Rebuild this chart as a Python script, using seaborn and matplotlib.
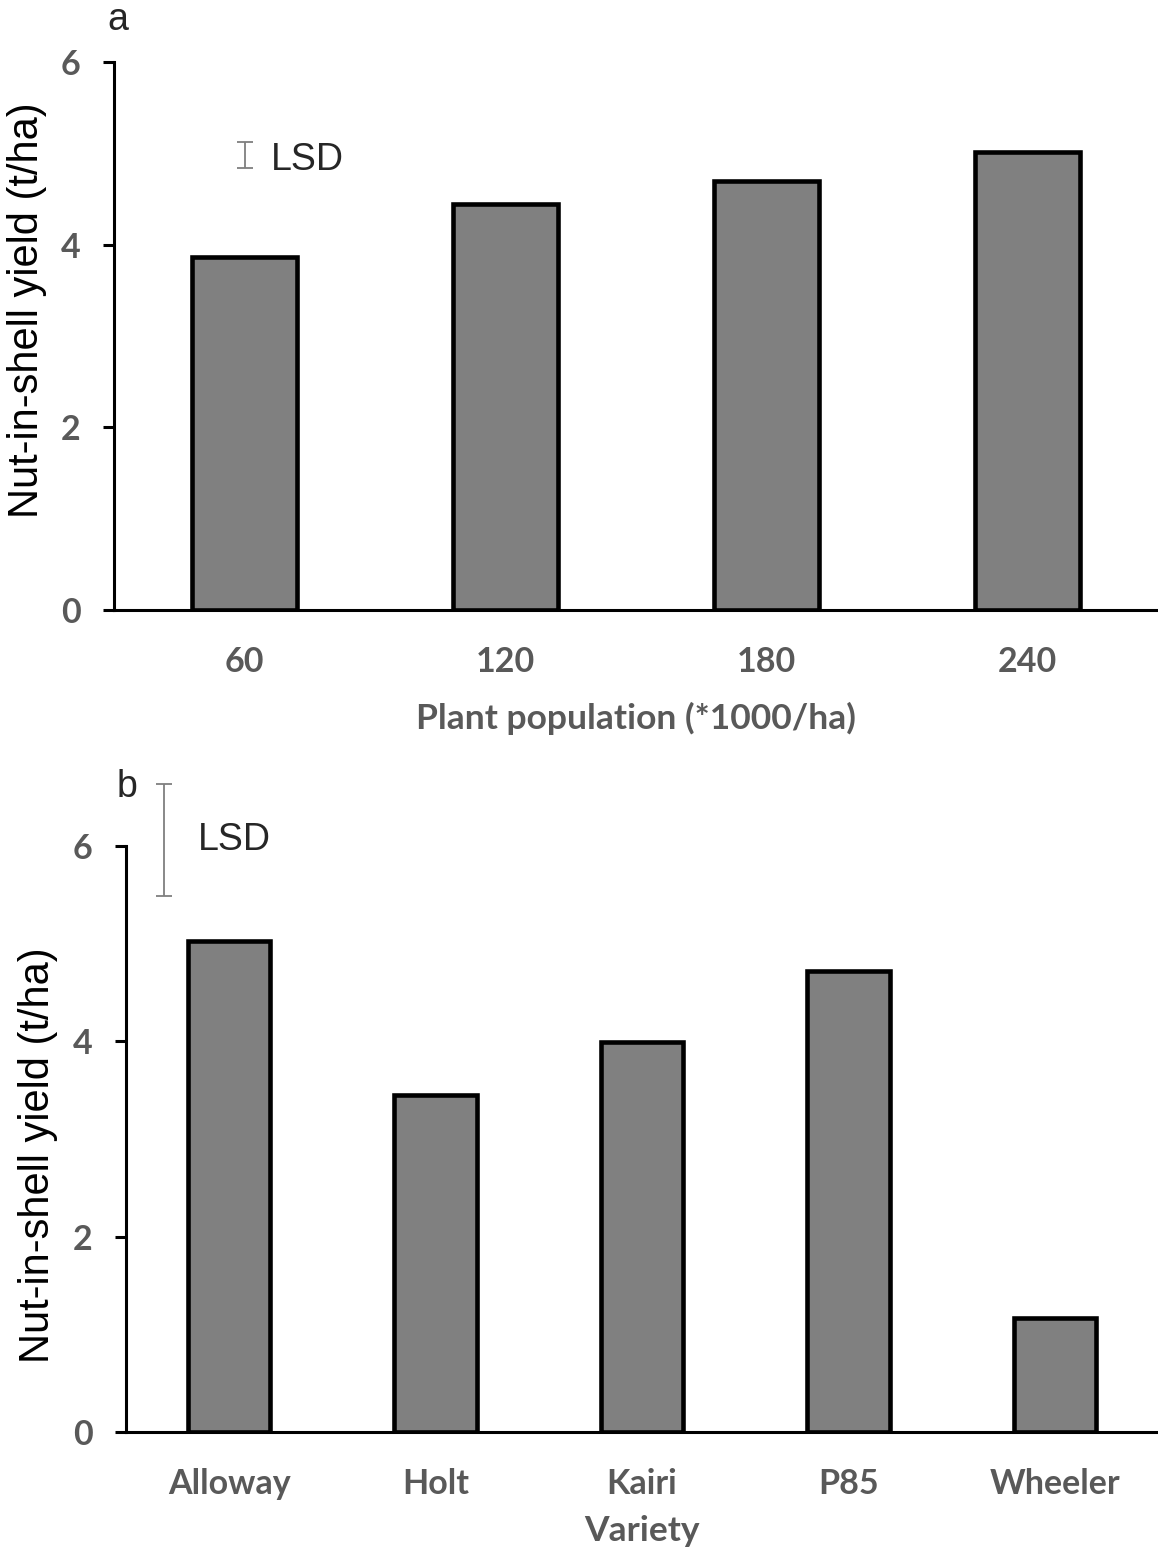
import numpy as np
import pandas as pd
import seaborn as sns
import matplotlib.pyplot as plt

# panel a: plant population
population = ["60", "120", "180", "240"]
yield_pop = [3.87, 4.44, 4.70, 5.01]
lsd_pop = 0.28

# panel b: variety
variety = ["Alloway", "Holt", "Kairi", "P85", "Wheeler"]
yield_var = [5.03, 3.45, 3.99, 4.72, 1.17]
lsd_var = 1.14

sns.set_style("ticks")
plt.rcParams['font.family'] = ['Liberation Sans', 'DejaVu Sans']

W, H = 1158, 1553
fig = plt.figure(figsize=(W / 100, H / 100), dpi=100)

def px_axes(left, top, right, bottom):
    return fig.add_axes([left / W, 1 - bottom / H, (right - left) / W, (bottom - top) / H])

ax_a = px_axes(114, 62, 1158, 610)
ax_b = px_axes(126, 846, 1158, 1432)

df_a = pd.DataFrame({"pop": population, "yield": yield_pop})
df_b = pd.DataFrame({"var": variety, "yield": yield_var})

bar_kw = dict(color="#808080", edgecolor="black", linewidth=3.3, width=0.4, saturation=1)
sns.barplot(data=df_a, x="pop", y="yield", ax=ax_a, **bar_kw)
sns.barplot(data=df_b, x="var", y="yield", ax=ax_b, **bar_kw)

label_font = dict(family="Lato", weight="bold", size=25.5, color="#595959")

for ax, xlab, lpad in [(ax_a, "Plant population (*1000/ha)", 17), (ax_b, "Variety", 11)]:
    ax.set_ylim(0, 6)
    ax.set_yticks([0, 2, 4, 6])
    ax.set_xlim(-0.5, len(ax.get_xticks()) - 0.5)
    for side in ["top", "right"]:
        ax.spines[side].set_visible(False)
    for side in ["left", "bottom"]:
        ax.spines[side].set_linewidth(2.2)
        ax.spines[side].set_color("black")
    ax.tick_params(axis="y", length=8, width=2.2, color="black", pad=16)
    ax.tick_params(axis="x", length=0, pad=26)
    for lab in ax.get_xticklabels() + ax.get_yticklabels():
        lab.set_fontfamily("Lato")
        lab.set_fontweight("bold")
        lab.set_fontsize(24.5)
        lab.set_color("#595959")
    ax.set_xlabel(xlab, fontdict=label_font, labelpad=lpad)
    ax.set_ylabel("Nut-in-shell yield (t/ha)", fontsize=30, color="black")

ax_a.yaxis.set_label_coords(-0.064, 0.547)
ax_b.yaxis.set_label_coords(-0.066, 0.473)

# LSD bars
ax_a.errorbar(0, 4.98, yerr=lsd_pop / 2, fmt="none", ecolor="#7f7f7f",
              elinewidth=1.3, capsize=6, capthick=1.3, clip_on=False)
ax_a.text(0.1, 4.93, "LSD", fontsize=27, va="center", ha="left")
ax_b.errorbar(-0.316, 6.06, yerr=lsd_var / 2, fmt="none", ecolor="#7f7f7f",
              elinewidth=1.3, capsize=6, capthick=1.3, clip_on=False)
ax_b.text(-0.15, 6.06, "LSD", fontsize=27, va="center", ha="left")

ax_a.text(118 / W, 1 - 20 / H, "a", transform=fig.transFigure, fontsize=27,
          ha="center", va="center")
ax_b.text(127 / W, 1 - 787 / H, "b", transform=fig.transFigure, fontsize=27,
          ha="center", va="center")

fig.savefig("out.png", dpi=100)
